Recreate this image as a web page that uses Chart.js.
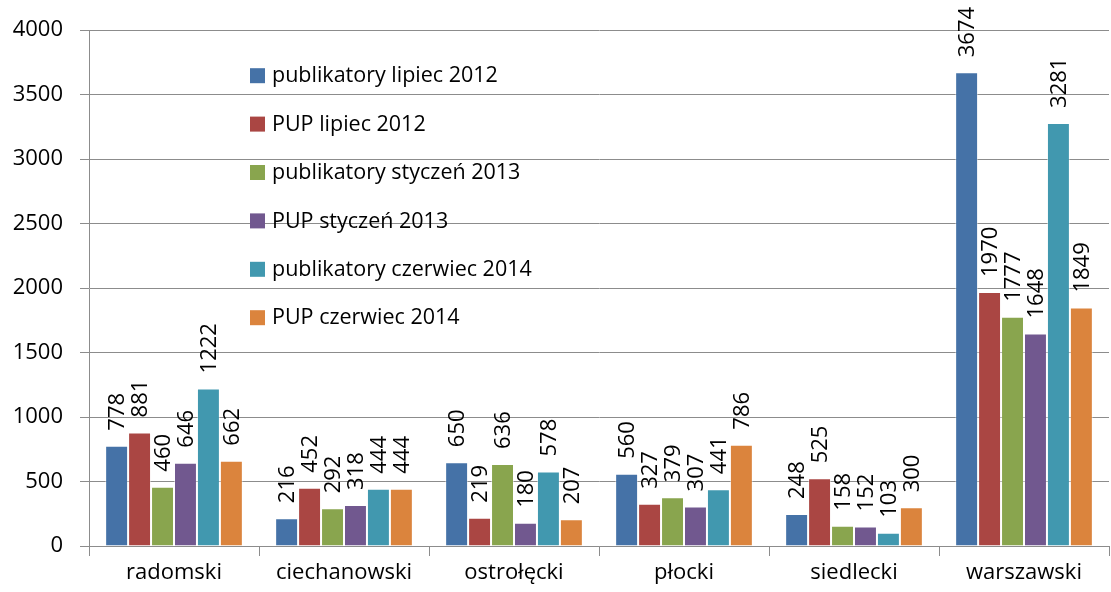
<!DOCTYPE html>
<html>
<head>
<meta charset="UTF-8">
<title>publikatory / PUP</title>
<style>
    body { margin: 0; padding: 0; background: #ffffff; }
    #chartBox { width: 1111px; height: 592px; }
</style>
<script src="https://cdn.jsdelivr.net/npm/chart.js@4.4.0/dist/chart.umd.min.js"></script>
</head>
<body>
<div id="chartBox">
    <canvas id="barChart" width="1111" height="592"></canvas>
</div>
<script>
// dane z wykresu
var categories = ['radomski', 'ciechanowski', 'ostrołęcki', 'płocki', 'siedlecki', 'warszawski'];
var seriesNames = [
    'publikatory lipiec 2012',
    'PUP lipiec 2012',
    'publikatory styczeń 2013',
    'PUP styczeń 2013',
    'publikatory czerwiec 2014',
    'PUP czerwiec 2014'
];
var publikatoryLipiec2012 = [778, 216, 650, 560, 248, 3674];
var pupLipiec2012 = [881, 452, 219, 327, 525, 1970];
var publikatoryStyczen2013 = [460, 292, 636, 379, 158, 1777];
var pupStyczen2013 = [646, 318, 180, 307, 152, 1648];
var publikatoryCzerwiec2014 = [1222, 444, 578, 441, 103, 3281];
var pupCzerwiec2014 = [662, 444, 207, 786, 300, 1849];
var yTicks = [0, 500, 1000, 1500, 2000, 2500, 3000, 3500, 4000];

var colors = ['#4572A7', '#AA4643', '#89A54E', '#71588F', '#4198AF', '#DB843D'];
var allSeries = [publikatoryLipiec2012, pupLipiec2012, publikatoryStyczen2013,
                 pupStyczen2013, publikatoryCzerwiec2014, pupCzerwiec2014];

var FONT = '"Open Sans", sans-serif';
var gridColor = '#8c8c8c';

// etykiety wartości obrócone o 90 stopni
var valueLabels = {
    id: 'valueLabels',
    afterDatasetsDraw: function (chart) {
        var ctx = chart.ctx;
        ctx.save();
        ctx.font = '22px ' + FONT;
        ctx.fillStyle = '#000';
        ctx.textAlign = 'left';
        ctx.textBaseline = 'middle';
        chart.data.datasets.forEach(function (ds, i) {
            var meta = chart.getDatasetMeta(i);
            meta.data.forEach(function (bar, j) {
                ctx.save();
                ctx.translate(bar.x + 1, bar.y - 15);
                ctx.rotate(-Math.PI / 2);
                ctx.fillText(String(ds.data[j]), 0, 0);
                ctx.restore();
            });
        });
        ctx.restore();
    }
};

// legenda wewnątrz obszaru wykresu
var innerLegend = {
    id: 'innerLegend',
    afterDraw: function (chart) {
        var ctx = chart.ctx;
        var area = chart.chartArea;
        var x = area.left + 161;
        var y = area.top + 45;
        ctx.save();
        ctx.font = '21.5px ' + FONT;
        ctx.textAlign = 'left';
        ctx.textBaseline = 'middle';
        chart.data.datasets.forEach(function (ds, i) {
            var cy = y + i * 48.4;
            ctx.fillStyle = ds.backgroundColor;
            ctx.fillRect(x, cy - 7, 15, 15);
            ctx.fillStyle = '#000';
            ctx.fillText(ds.label, x + 22, cy + 1);
        });
        ctx.restore();
    }
};

var datasets = seriesNames.map(function (name, i) {
    return {
        label: name,
        data: allSeries[i],
        backgroundColor: colors[i],
        borderColor: 'rgba(255,255,255,0.45)',
        borderWidth: 1,
        categoryPercentage: 0.81,
        barPercentage: 1.0
    };
});

var ctx = document.getElementById('barChart').getContext('2d');
var barChart = new Chart(ctx, {
    type: 'bar',
    data: { labels: categories, datasets: datasets },
    plugins: [valueLabels, innerLegend],
    options: {
        responsive: false,
        animation: false,
        layout: { padding: { top: 30, right: 2, left: 0, bottom: 0 } },
        plugins: {
            legend: { display: false },
            tooltip: { enabled: false }
        },
        scales: {
            x: {
                grid: {
                    offset: true,
                    drawOnChartArea: false,
                    drawTicks: true,
                    tickLength: 10,
                    color: gridColor
                },
                border: { display: true, color: gridColor, width: 1 },
                ticks: {
                    font: { family: FONT, size: 22 },
                    color: '#000',
                    padding: 4,
                    maxRotation: 0
                },
                afterFit: function (scale) { scale.height = 46; }
            },
            y: {
                min: 0,
                max: 4000,
                afterBuildTicks: function (scale) {
                    scale.ticks = yTicks.map(function (v) { return { value: v }; });
                },
                grid: {
                    color: gridColor,
                    lineWidth: 1,
                    drawTicks: true,
                    tickLength: 9
                },
                border: { display: true, color: gridColor, width: 1 },
                ticks: {
                    font: { family: FONT, size: 22 },
                    color: '#000',
                    padding: 17,
                    callback: function (value) { return String(value); }
                },
                afterFit: function (scale) { scale.width = 89; }
            }
        }
    }
});
</script>
</body>
</html>
